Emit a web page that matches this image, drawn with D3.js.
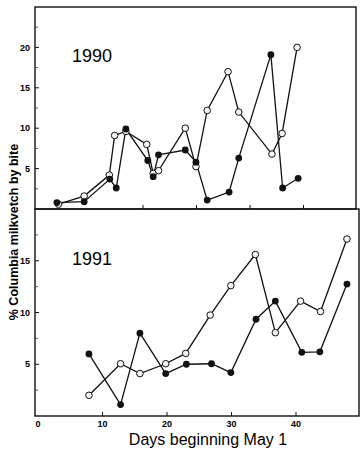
<!DOCTYPE html>
<html>
<head>
<meta charset="utf-8">
<script src="https://cdn.jsdelivr.net/npm/d3@7"></script>
<style>
  body { margin: 0; background: #fff; }
  svg text { font-family: "Liberation Sans", Arial, sans-serif; }
</style>
</head>
<body>
<svg id="chart" width="362" height="449"></svg>
<script>
// 1990 - days and % values, filled and open symbols
var days1990Filled = [3.9, 9.0, 13.8, 15.0, 16.8, 20.9, 21.9, 22.9, 27.9, 29.9, 32.0, 36.1, 37.9, 43.9, 46.1, 49.0];
var vals1990Filled = [0.8, 0.9, 3.7, 2.6, 9.9, 6.0, 4.0, 6.7, 7.3, 5.8, 1.1, 2.1, 6.3, 19.1, 2.6, 3.8];
var days1990Open = [4.2, 9.0, 13.7, 14.7, 16.8, 20.7, 21.9, 22.9, 27.9, 29.9, 32.0, 35.9, 37.9, 44.1, 46.0, 48.8];
var vals1990Open = [0.6, 1.6, 4.2, 9.1, 9.6, 8.0, 4.4, 4.75, 10.0, 5.25, 12.2, 17.0, 12.0, 6.8, 9.35, 20.0];

// 1991
var days1991Filled = [7.9, 12.8, 15.8, 19.8, 23.0, 26.9, 29.9, 33.8, 36.8, 40.9, 43.7, 47.9];
var vals1991Filled = [6.0, 1.1, 8.0, 4.1, 5.0, 5.05, 4.2, 9.35, 11.1, 6.15, 6.2, 12.75];
var days1991Open = [7.9, 12.8, 15.8, 19.8, 22.9, 26.7, 29.9, 33.7, 36.8, 40.7, 43.8, 47.9];
var vals1991Open = [2.0, 5.05, 4.1, 5.05, 6.05, 9.75, 12.6, 15.6, 8.05, 11.1, 10.1, 17.1];

// tick values
var yTicks1990 = [5, 10, 15, 20];
var yTicks1991 = [5, 10, 15];
var xTicks1990 = [20, 30, 40, 50];
var xTicks1991 = [0, 10, 20, 30, 40];

var svg = d3.select("#chart");

function zip(xs, ys) {
    return xs.map(function(d, i) { return [d, ys[i]]; });
}

function drawPanel(p) {
    var x = d3.scaleLinear().domain(p.xDomain).range(p.xRange);
    var y = d3.scaleLinear().domain(p.yDomain).range(p.yRange);
    var g = svg.append("g");

    // frame
    g.append("rect")
        .attr("x", p.frame[0])
        .attr("y", p.yRange[1])
        .attr("width", p.frame[1] - p.frame[0])
        .attr("height", p.yRange[0] - p.yRange[1])
        .attr("fill", "none")
        .attr("stroke", "#111")
        .attr("stroke-width", 1.4);

    // y ticks (inward), minor ticks every 2.5
    var minor = d3.range(2.5, p.yDomain[1], 5);
    g.selectAll(".ymin").data(minor).enter().append("line")
        .attr("x1", p.frame[0]).attr("x2", p.frame[0] + 3)
        .attr("y1", function(d) { return y(d); }).attr("y2", function(d) { return y(d); })
        .attr("stroke", "#333").attr("stroke-width", 0.8);
    g.selectAll(".ymaj").data(p.yTicks).enter().append("line")
        .attr("x1", p.frame[0]).attr("x2", p.frame[0] + 4)
        .attr("y1", function(d) { return y(d); }).attr("y2", function(d) { return y(d); })
        .attr("stroke", "#111").attr("stroke-width", 1);
    g.selectAll(".ylab").data(p.yTicks).enter().append("text")
        .attr("x", p.frame[0] - 5)
        .attr("y", function(d) { return y(d); })
        .attr("dy", "0.35em")
        .attr("text-anchor", "end")
        .style("font-size", "9px")
        .style("font-weight", "bold")
        .text(function(d) { return d; });

    // x ticks (inward from bottom)
    g.selectAll(".xt").data(p.xTicks.filter(function(d) { return d > 0; })).enter().append("line")
        .attr("x1", function(d) { return x(d); }).attr("x2", function(d) { return x(d); })
        .attr("y1", p.yRange[0]).attr("y2", p.yRange[0] - 4)
        .attr("stroke", "#111").attr("stroke-width", 1);
    if (p.xLabels) {
        g.selectAll(".xlab").data(p.xTicks).enter().append("text")
            .attr("x", function(d) { return x(d); })
            .attr("y", p.yRange[0] + 11)
            .attr("text-anchor", "middle")
            .style("font-size", "9px")
            .style("font-weight", "bold")
            .text(function(d) { return d; });
    }

    // year label
    g.append("text")
        .attr("x", p.yearX)
        .attr("y", p.yearY)
        .style("font-size", "18px")
        .text(p.year);

    var line = d3.line()
        .x(function(d) { return x(d[0]); })
        .y(function(d) { return y(d[1]); });

    var open = zip(p.openDays, p.openVals);
    var filled = zip(p.filledDays, p.filledVals);

    g.append("path").datum(open).attr("d", line)
        .attr("fill", "none").attr("stroke", "#111").attr("stroke-width", 1.3);
    g.append("path").datum(filled).attr("d", line)
        .attr("fill", "none").attr("stroke", "#111").attr("stroke-width", 1.3);

    g.selectAll(".open").data(open).enter().append("circle")
        .attr("cx", function(d) { return x(d[0]); })
        .attr("cy", function(d) { return y(d[1]); })
        .attr("r", 3.3)
        .attr("fill", "#f4f4f4")
        .attr("stroke", "#111")
        .attr("stroke-width", 1);
    g.selectAll(".filled").data(filled).enter().append("circle")
        .attr("cx", function(d) { return x(d[0]); })
        .attr("cy", function(d) { return y(d[1]); })
        .attr("r", 3.4)
        .attr("fill", "#111");
}

drawPanel({
    xDomain: [0, 60], xRange: [36, 357], frame: [35, 356],
    yDomain: [0, 25], yRange: [209, 7],
    yTicks: yTicks1990, xTicks: xTicks1990, xLabels: false,
    year: "1990", yearX: 72, yearY: 62,
    filledDays: days1990Filled, filledVals: vals1990Filled,
    openDays: days1990Open, openVals: vals1990Open
});

drawPanel({
    xDomain: [0, 50], xRange: [38, 360.5], frame: [35, 359],
    yDomain: [0, 20], yRange: [416, 209],
    yTicks: yTicks1991, xTicks: xTicks1991, xLabels: true,
    year: "1991", yearX: 72, yearY: 265,
    filledDays: days1991Filled, filledVals: vals1991Filled,
    openDays: days1991Open, openVals: vals1991Open
});

// axis titles
svg.append("text")
    .attr("text-anchor", "middle")
    .attr("transform", "translate(18,232)rotate(-90)")
    .style("font-size", "12.5px")
    .style("font-weight", "bold")
    .text("% Columbia milkvetch by bite");

svg.append("text")
    .attr("x", 208)
    .attr("y", 445)
    .attr("text-anchor", "middle")
    .style("font-size", "16px")
    .text("Days beginning May 1");
</script>
</body>
</html>
